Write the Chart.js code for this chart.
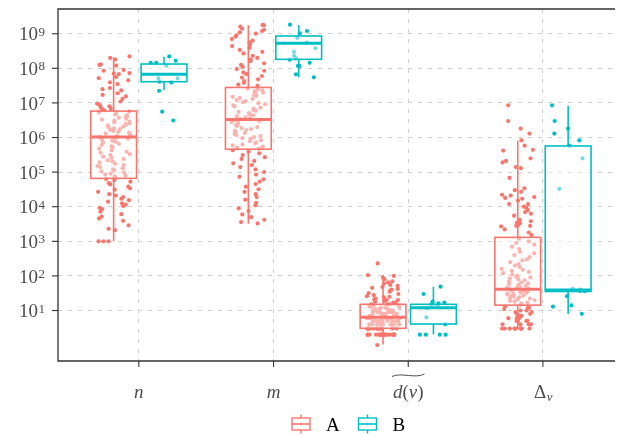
<!DOCTYPE html>
<html><head><meta charset="utf-8">
<script src="https://cdn.jsdelivr.net/npm/chart.js@4/dist/chart.umd.min.js"></script>
<style>html,body{margin:0;padding:0;background:#fff;overflow:hidden}</style>
</head><body><canvas id="c" width="617" height="436"></canvas>
<script>
// ---------- data ----------
const categories = ['n', 'm', 'd(v)', 'Δv'];
const groups = ['A', 'B'];
const yTickExponents = [1, 2, 3, 4, 5, 6, 7, 8, 9];

// box-plot statistics per category (lower whisker, Q1, median, Q3, upper whisker)
const aLower  = [1e3, 3.2e3, 1.05, 3.0];
const aQ1     = [6.6e4, 4.6e5, 3.06, 14.3];
const aMedian = [1.03e6, 3.3e6, 6.35, 41];
const aQ3     = [5.8e6, 2.8e7, 15.1, 1300];
const aUpper  = [2.1e8, 1.78e9, 106, 8.1e5];
const bLower  = [2.36e7, 5.5e7, 2.05, 7.9];
const bQ1     = [4.1e7, 1.82e8, 4.07, 35.5];
const bMedian = [6.7e7, 5.3e8, 12.1, 39];
const bQ3     = [1.33e8, 8.6e8, 15.1, 5.7e5];
const bUpper  = [2.16e8, 1.78e9, 48.7, 8.3e6];

// jittered observations
const nA = [2.2e8, 2.0e8, 1.8e8, 1.3e8, 1.25e8, 1.2e8, 9e7, 8.5e7, 7.3e7, 7e7, 6.8e7, 5.6e7, 5.2e7, 4.5e7, 3.9e7, 3.5e7, 2.7e7, 2.5e7, 2.3e7, 1.9e7, 1.7e7, 1.55e7, 1.3e7, 1.1e7, 9.5e6, 8.6e6, 8e6, 7.4e6, 6.8e6, 6.4e6, 6.1e6,
  5.6e6, 5.3e6, 4.9e6, 4.6e6, 4.4e6, 4.1e6, 3.9e6, 3.7e6, 3.5e6, 3.3e6, 3.1e6, 2.9e6, 2.75e6, 2.6e6, 2.45e6, 2.3e6, 2.2e6, 2.05e6, 1.95e6, 1.85e6, 1.75e6, 1.65e6, 1.55e6, 1.45e6, 1.38e6, 1.3e6, 1.22e6, 1.16e6, 1.1e6, 1.04e6, 9.8e5, 9.2e5, 8.7e5, 8.1e5, 7.6e5, 7.1e5, 6.6e5, 6.1e5, 5.6e5, 5.2e5, 4.8e5, 4.3e5, 3.9e5, 3.6e5, 3.3e5, 3.1e5, 2.8e5, 2.6e5, 2.4e5, 2.2e5, 2.05e5, 1.9e5, 1.75e5, 1.6e5, 1.5e5, 1.4e5, 1.3e5, 1.2e5, 1.12e5, 1.05e5, 9.8e4, 9.1e4, 8.5e4, 7.9e4, 7.4e4, 7e4,
  6.3e4, 5.9e4, 5.3e4, 4.8e4, 4.4e4, 3.8e4, 3.4e4, 3.1e4, 2.7e4, 2.3e4, 2.1e4, 1.9e4, 1.7e4, 1.55e4, 1.4e4, 1.25e4, 1.15e4, 1.05e4, 9.3e3, 8.5e3, 7.2e3, 6.1e3, 5.2e3, 4.6e3, 3.9e3, 2.9e3, 2.3e3, 2.1e3, 1e3, 1e3, 1e3];
const nB = [2.2e8, 1.66e8, 1.45e8, 1.45e8, 1.19e8, 5.1e7, 5.1e7, 4.1e7, 3.9e7, 2.25e7, 5.6e6, 3.1e6];
const mA = [1.8e9, 1.75e9, 1.6e9, 1.4e9, 1.3e9, 1.2e9, 1.1e9, 1e9, 9e8, 8.2e8, 7e8, 6.3e8, 5.6e8, 5e8, 4.4e8, 3.9e8, 3.4e8, 3e8, 2.7e8, 2.3e8, 2e8, 1.8e8, 1.6e8, 1.4e8, 1.25e8, 1.1e8, 9.5e7, 8.5e7, 7.6e7, 6.8e7, 6e7, 5.4e7, 4.8e7, 4.3e7, 3.8e7, 3.4e7, 3.1e7,
  2.6e7, 2.45e7, 2.3e7, 2.15e7, 2e7, 1.85e7, 1.7e7, 1.6e7, 1.5e7, 1.4e7, 1.3e7, 1.2e7, 1.12e7, 1.05e7, 9.8e6, 9.1e6, 8.5e6, 7.9e6, 7.3e6, 6.8e6, 6.3e6, 5.9e6, 5.5e6, 5.1e6, 4.7e6, 4.4e6, 4.1e6, 3.8e6, 3.6e6, 3.4e6, 3.2e6, 3e6, 2.8e6, 2.6e6, 2.45e6, 2.3e6, 2.15e6, 2e6, 1.88e6, 1.76e6, 1.65e6, 1.55e6, 1.45e6, 1.35e6, 1.27e6, 1.18e6, 1.1e6, 1.03e6, 9.6e5, 9e5, 8.4e5, 7.9e5, 7.3e5, 6.8e5, 6.3e5, 5.9e5, 5.5e5, 5.1e5, 4.8e5,
  4.3e5, 3.9e5, 3.5e5, 3.1e5, 2.7e5, 2.4e5, 2.1e5, 1.8e5, 1.6e5, 1.4e5, 1.2e5, 1e5, 8.5e4, 7.3e4, 6.2e4, 5.3e4, 4.5e4, 3.8e4, 3.2e4, 2.7e4, 2.3e4, 1.9e4, 1.6e4, 1.3e4, 1.1e4, 9e3, 7.5e3, 6e3, 5e3, 4.2e3, 3.6e3, 3.3e3];
const mB = [1.82e9, 1.2e9, 1.03e9, 7.6e8, 5.5e8, 3.8e8, 3.0e8, 2.3e8, 1.95e8, 1.77e8, 1.45e8, 1.17e8, 1.17e8, 6.7e7, 5.5e7];
const dA = [1, 2, 2, 2, 2, 2, 2, 2, 2, 2, 2, 2, 2, 2, 2, 2, 2, 2, 2,
  3, 3, 3, 3, 3, 3, 3, 3, 3, 3, 3, 3, 3, 3, 3, 3,
  4, 4, 4, 4, 4, 4, 4, 4, 4, 4, 4, 4, 5, 5, 5, 5, 5, 5, 5, 5, 5, 5,
  6, 6, 6, 6, 6, 6, 6, 6, 6, 6, 7, 7, 7, 7, 7, 7, 7, 7, 8, 8, 8, 8, 8, 8, 8,
  9, 9, 9, 9, 9, 9, 10, 10, 10, 10, 10, 10, 11, 11, 11, 12, 12, 12, 13, 13, 13, 14, 14, 14, 15, 15, 15,
  16, 17, 17, 18, 19, 20, 20, 21, 22, 24, 25, 26, 28, 30, 32, 35, 38, 40, 42, 45, 48, 52, 55, 60,
  65, 70, 80, 90, 100, 105, 230];
const dB = [49, 30, 18, 17, 16, 15, 15, 11.5, 6.3, 4, 2, 2, 2, 2];
const deltaA = [8.5e6, 3e6, 1.8e6, 1.3e6, 8.3e5, 5.8e5, 4.4e5, 4.2e5, 2.5e5, 2.1e5, 1.9e5, 1.4e5, 1.3e5, 6.8e4, 3.4e4, 3e4, 2.7e4, 2.2e4, 2.1e4, 1.9e4, 1.8e4, 1.7e4, 1.5e4, 1.2e4, 1.2e4, 1e4, 9.4e3, 8e3, 7e3, 6.3e3, 5.5e3, 4.2e3, 3.8e3, 3.4e3, 3.4e3, 3e3, 2.8e3, 2.8e3, 2.7e3, 2.2e3, 1.8e3, 1.5e3,
  1200, 1000, 900, 800, 700, 600, 500, 450, 400, 350, 300, 280, 250, 220, 200, 180, 160, 150, 140, 130, 120, 110, 100, 95, 90, 85, 80, 75, 70, 65, 60, 58, 55, 52, 50, 48, 46, 44, 42, 41, 40, 39, 38, 37, 36, 35, 34, 33, 32, 31, 30, 29, 28, 27, 26, 25, 24, 23, 22, 21, 20, 19, 18, 17, 16, 15,
  13, 12, 12, 11, 10, 10, 9, 9, 8, 8, 7, 7, 7, 6, 6, 6, 5, 5, 5, 5, 4, 4, 4, 4, 3, 3, 3, 3, 3, 3, 3, 3, 3];
const deltaB = [8.5e6, 3.0e6, 1.8e6, 1.3e6, 8.3e5, 5.8e5, 2.5e5, 3.3e4, 42, 40, 38, 37, 36, 26, 14, 13, 8];

const aPoints = [nA, mA, dA, deltaA];
const bPoints = [nB, mB, dB, deltaB];

// ---------- styling / layout ----------
const COL_A = '#F8766D', COL_B = '#00BFC4';
const DODGE = 0.187, HALF_BOX = 0.17, JIT = 0.125;
const SERIF = '"Liberation Serif", "DejaVu Serif", serif';
// deterministic horizontal jitter (position only, hashed from point index)
function jitter(i, seed) {
  let h = Math.imul((i + 1) * 374761393 + seed * 668265263, 1274126177) >>> 0;
  h = Math.imul(h ^ (h >>> 13), 2246822519) >>> 0;
  h = (h ^ (h >>> 16)) >>> 0;
  return (h / 4294967296 - 0.5) * 2 * JIT;
}

function buildPoints(sets, off, seedBase) {
  const out = [];
  sets.forEach((vals, c) => vals.forEach((v, i) => out.push({x: c + 1 + off + jitter(i, seedBase + c), y: v})));
  return out;
}

const boxPlugin = {
  id: 'boxes',
  afterDatasetsDraw(chart) {
    const {ctx, scales: {x, y}} = chart;
    const specs = [
      [-DODGE, COL_A, aLower, aQ1, aMedian, aQ3, aUpper],
      [DODGE, COL_B, bLower, bQ1, bMedian, bQ3, bUpper]
    ];
    ctx.save();
    specs.forEach(([off, col, lo, q1, med, q3, hi]) => {
      categories.forEach((_, i) => {
        const c = i + 1 + off;
        const xl = x.getPixelForValue(c - HALF_BOX), xr = x.getPixelForValue(c + HALF_BOX), xc = x.getPixelForValue(c);
        const yLo = y.getPixelForValue(lo[i]), yQ1 = y.getPixelForValue(q1[i]), yMed = y.getPixelForValue(med[i]);
        const yQ3 = y.getPixelForValue(q3[i]), yHi = y.getPixelForValue(hi[i]);
        ctx.strokeStyle = col; ctx.lineWidth = 1.6;
        ctx.beginPath();
        ctx.moveTo(xc, yQ3); ctx.lineTo(xc, yHi);
        ctx.moveTo(xc, yQ1); ctx.lineTo(xc, yLo);
        ctx.stroke();
        ctx.fillStyle = 'rgba(255,255,255,0.45)';
        ctx.fillRect(xl, yQ3, xr - xl, yQ1 - yQ3);
        ctx.strokeRect(xl, yQ3, xr - xl, yQ1 - yQ3);
        ctx.lineWidth = 3;
        ctx.beginPath(); ctx.moveTo(xl, yMed); ctx.lineTo(xr, yMed); ctx.stroke();
      });
    });
    ctx.restore();
  },
  afterDraw(chart) {
    const {ctx, chartArea: a, scales: {x, y}} = chart;
    ctx.save();
    // panel border (right side falls outside the picture)
    ctx.strokeStyle = '#333'; ctx.lineWidth = 1.3;
    ctx.beginPath();
    ctx.moveTo(a.right + 2, a.top); ctx.lineTo(a.left, a.top); ctx.lineTo(a.left, a.bottom); ctx.lineTo(a.right + 2, a.bottom);
    ctx.stroke();
    // y ticks + labels
    ctx.lineWidth = 1.1;
    yTickExponents.forEach(k => {
      const py = y.getPixelForValue(Math.pow(10, k));
      ctx.strokeStyle = '#333';
      ctx.beginPath(); ctx.moveTo(a.left - 6, py); ctx.lineTo(a.left, py); ctx.stroke();
      ctx.fillStyle = '#4d4d4d';
      ctx.font = '19px ' + SERIF;
      const w1 = ctx.measureText('10').width;
      ctx.font = '13px ' + SERIF;
      const w2 = ctx.measureText(String(k)).width;
      const xs = a.left - 13 - w2 - w1 - 0.5;
      ctx.textAlign = 'left'; ctx.textBaseline = 'alphabetic';
      ctx.font = '19px ' + SERIF;
      ctx.fillText('10', xs, py + 6.6);
      ctx.font = '13px ' + SERIF;
      ctx.fillText(String(k), xs + w1 + 0.5, py + 2);
    });
    // x ticks + labels
    const base = 397.5;
    categories.forEach((lab, i) => {
      const px = x.getPixelForValue(i + 1);
      ctx.strokeStyle = '#333';
      ctx.beginPath(); ctx.moveTo(px, a.bottom); ctx.lineTo(px, a.bottom + 6); ctx.stroke();
      ctx.fillStyle = '#4d4d4d';
      ctx.textBaseline = 'alphabetic';
      if (i < 2) {
        ctx.font = 'italic 19px ' + SERIF; ctx.textAlign = 'center';
        ctx.fillText(lab, px, base);
      } else if (i === 2) {
        const parts = [['d', 'italic 19px '], ['(', '19px '], ['v', 'italic 19px '], [')', '19px ']];
        let w = 0;
        parts.forEach(p => { ctx.font = p[1] + SERIF; w += ctx.measureText(p[0]).width; });
        let xx = px - w / 2;
        ctx.textAlign = 'left';
        parts.forEach(p => { ctx.font = p[1] + SERIF; ctx.fillText(p[0], xx, base); xx += ctx.measureText(p[0]).width; });
        // wide tilde
        ctx.strokeStyle = '#4d4d4d'; ctx.lineWidth = 1;
        ctx.beginPath();
        const x0 = px - w / 2 - 1, x1 = px + w / 2 + 1, ty = 375;
        ctx.moveTo(x0, ty + 1.5);
        ctx.bezierCurveTo(x0 + (x1 - x0) * 0.3, ty - 3, x0 + (x1 - x0) * 0.7, ty + 4, x1, ty - 1);
        ctx.stroke();
      } else {
        ctx.font = '19px ' + SERIF;
        const w1 = ctx.measureText('Δ').width;
        ctx.font = 'italic 13px ' + SERIF;
        const w2 = ctx.measureText('v').width;
        const xs = px - (w1 + w2) / 2;
        ctx.textAlign = 'left';
        ctx.font = '19px ' + SERIF; ctx.fillText('Δ', xs, base);
        ctx.font = 'italic 13px ' + SERIF; ctx.fillText('v', xs + w1 + 0.5, base + 3.5);
      }
    });
    // legend
    const items = [[groups[0], COL_A, 292], [groups[1], COL_B, 358.5]];
    items.forEach(([lab, col, lx]) => {
      const w = 18, top = 418, bot = 430, mid = 424, cx = lx + w / 2;
      ctx.strokeStyle = col; ctx.lineWidth = 1.4;
      ctx.beginPath();
      ctx.moveTo(cx, 414.5); ctx.lineTo(cx, top);
      ctx.moveTo(cx, bot); ctx.lineTo(cx, 433.5);
      ctx.stroke();
      ctx.strokeRect(lx, top, w, bot - top);
      ctx.lineWidth = 1.6;
      ctx.beginPath(); ctx.moveTo(lx, mid); ctx.lineTo(lx + w, mid); ctx.stroke();
      ctx.fillStyle = col; ctx.globalAlpha = 0.6;
      ctx.beginPath(); ctx.arc(cx, mid, 1.3, 0, Math.PI * 2); ctx.fill();
      ctx.globalAlpha = 1;
      ctx.fillStyle = '#000'; ctx.font = '19px ' + SERIF; ctx.textAlign = 'left';
      ctx.fillText(lab, lx + 34, 431);
    });
    ctx.restore();
  }
};

const gridCfg = {color: '#cfcfcf', lineWidth: 1, drawTicks: false};

new Chart(document.getElementById('c'), {
  type: 'scatter',
  data: {
    datasets: [
      {label: groups[0], data: buildPoints(aPoints, -DODGE, 11), backgroundColor: COL_A, pointRadius: 2.1, borderWidth: 0},
      {label: groups[1], data: buildPoints(bPoints, DODGE, 53), backgroundColor: COL_B, pointRadius: 2.1, borderWidth: 0}
    ]
  },
  options: {
    responsive: false, animation: false, devicePixelRatio: 1,
    layout: {padding: {top: 9, right: 0, bottom: 0, left: 0}},
    plugins: {legend: {display: false}, tooltip: {enabled: false}},
    scales: {
      x: {
        type: 'linear', min: 0.4, max: 4.52, bounds: 'data',
        afterBuildTicks: s => { s.ticks = categories.map((_, i) => ({value: i + 1})); },
        afterFit: s => { s.height = 75; },
        ticks: {display: false}, grid: gridCfg, border: {display: false, dash: [4, 6]}
      },
      y: {
        type: 'logarithmic', min: 0.3475, max: 5.18e9, bounds: 'data',
        afterBuildTicks: s => { s.ticks = yTickExponents.map(k => ({value: Math.pow(10, k)})); },
        afterFit: s => { s.width = 58; },
        ticks: {display: false}, grid: gridCfg, border: {display: false, dash: [4, 6]}
      }
    }
  },
  plugins: [boxPlugin]
});
</script>
</body></html>
